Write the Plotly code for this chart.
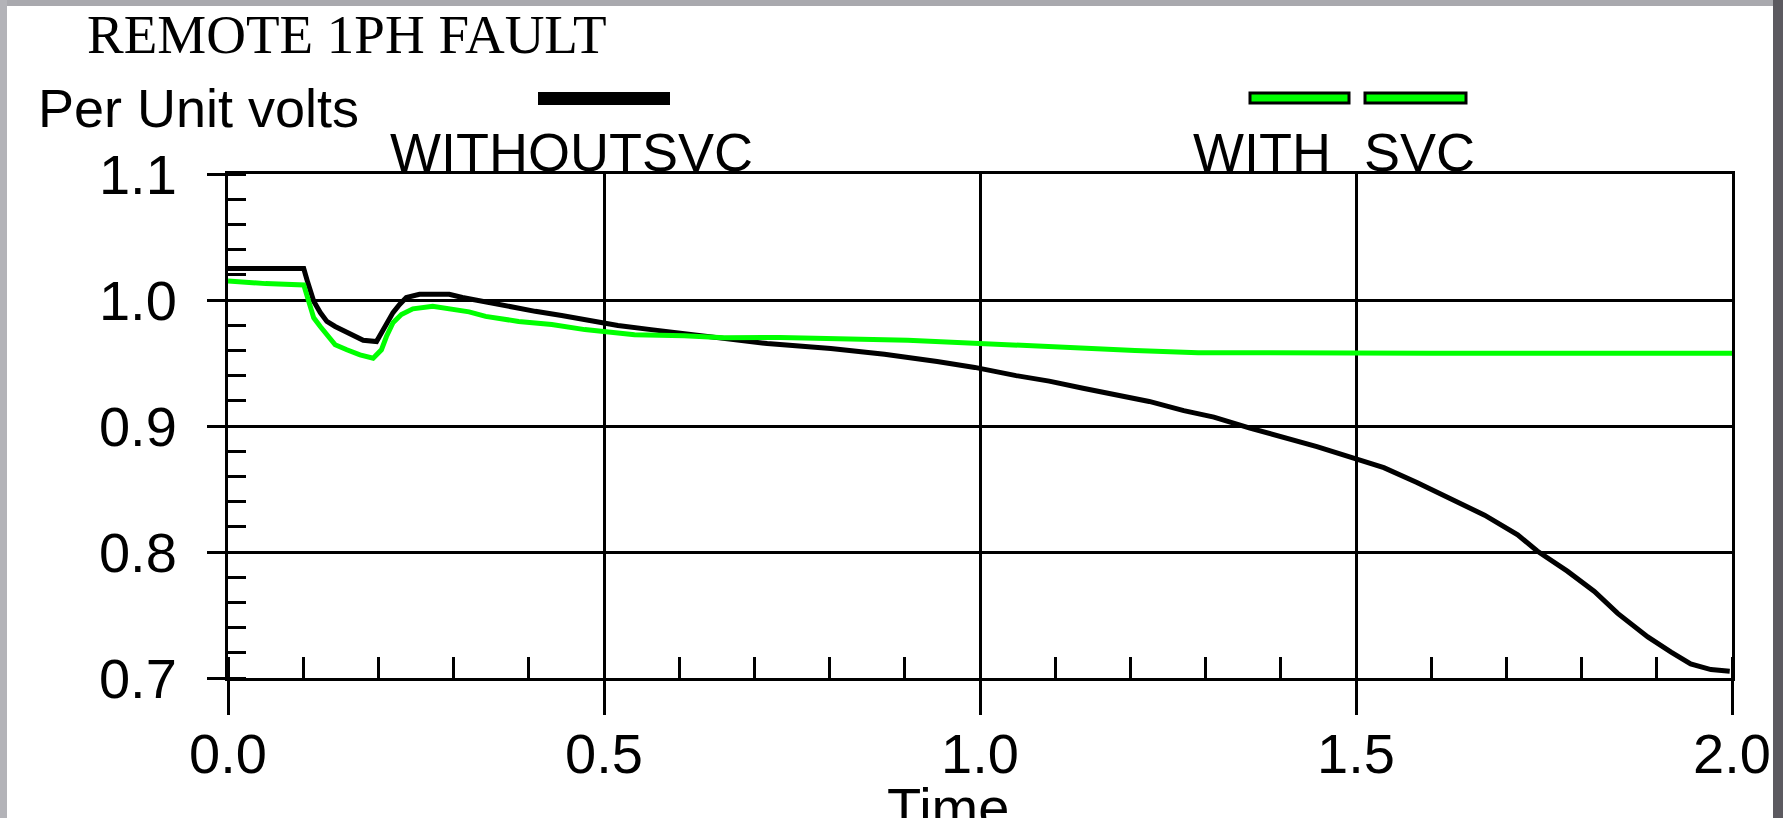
import plotly.graph_objects as go

# ---------------- data ----------------
t_without = [0.0, 0.1007, 0.106, 0.114, 0.1227, 0.1315, 0.1425, 0.1534, 0.1666,
             0.1798, 0.1975, 0.2041, 0.2107, 0.2194, 0.2282, 0.2371, 0.2546,
             0.2942, 0.3117, 0.3426, 0.3777, 0.4086, 0.4437, 0.4789, 0.5185,
             0.5626, 0.717, 0.8016, 0.873, 0.943, 0.993, 1.048, 1.092, 1.137,
             1.181, 1.225, 1.271, 1.311, 1.359, 1.404, 1.448, 1.5, 1.537, 1.581,
             1.625, 1.671, 1.715, 1.741, 1.781, 1.817, 1.848, 1.888, 1.919,
             1.945, 1.972, 1.997]
v_without = [1.025, 1.025, 1.014, 0.999, 0.990, 0.983, 0.979, 0.976, 0.972,
             0.968, 0.967, 0.974, 0.980, 0.990, 0.9965, 1.002, 1.0045,
             1.0045, 1.002, 0.9984, 0.9952, 0.991, 0.9877, 0.984, 0.9797,
             0.9765, 0.9654, 0.9615, 0.9569, 0.9512, 0.9465, 0.940, 0.9356, 0.930,
             0.9245, 0.9195, 0.9122, 0.907, 0.8984, 0.8914, 0.8837, 0.8739, 0.8669, 0.8552,
             0.8422, 0.8292, 0.8137, 0.8008, 0.7848, 0.7687, 0.7513, 0.7326, 0.7206,
             0.7112, 0.7067, 0.7054]

t_with = [0.0, 0.05, 0.1007, 0.106, 0.114, 0.1227, 0.1315, 0.1425, 0.158, 0.1755,
          0.193, 0.204, 0.2107, 0.2194, 0.2305, 0.2458, 0.2722, 0.2942, 0.3206,
          0.3426, 0.3865, 0.4305, 0.4745, 0.5406, 0.6067, 0.6596, 0.734, 0.904,
          1.0, 1.098, 1.206, 1.29, 1.4, 1.6, 1.8, 2.0]
v_with = [1.015, 1.013, 1.012, 1.0005, 0.9858, 0.979, 0.9725, 0.9645, 0.9605, 0.9565,
          0.9538, 0.9605, 0.971, 0.982, 0.9885, 0.993, 0.995, 0.993, 0.9906,
          0.987, 0.983, 0.9805, 0.9765, 0.9725, 0.9717, 0.970, 0.9703, 0.968,
          0.9654, 0.9623, 0.960, 0.9582, 0.9578, 0.9578, 0.9578, 0.9578]

x_tickvals = [0.0, 0.5, 1.0, 1.5, 2.0]
x_ticktext = ["0.0", "0.5", "1.0", "1.5", "2.0"]
y_tickvals = [0.7, 0.8, 0.9, 1.0, 1.1]
y_ticktext = ["0.7", "0.8", "0.9", "1.0", "1.1"]

title_text = "REMOTE 1PH FAULT"
y_label = "Per Unit volts"
x_label = "Time"
label_without = "WITHOUTSVC"
label_with = ["WITH", "SVC"]

# ---------------- layout helpers (pixels -> paper) ----------------
W, H = 1783, 818
ML, MR, MT, MB = 228, 51, 174, 140
PW, PH = W - ML - MR, H - MT - MB


def px(x):
    return (x - ML) / PW


def py(y):
    return (H - MB - y) / PH


SANS = "Liberation Sans, Arial, sans-serif"
SERIF = "Liberation Serif, Times New Roman, serif"

fig = go.Figure()
fig.add_trace(go.Scatter(x=t_without, y=v_without, mode="lines",
                         line=dict(color="#000000", width=5), name=label_without))
fig.add_trace(go.Scatter(x=t_with, y=v_with, mode="lines",
                         line=dict(color="#00ff00", width=5), name=" ".join(label_with)))

axis_common = dict(showline=True, linewidth=3, linecolor="black", mirror=True,
                   showgrid=True, gridcolor="black", gridwidth=3, zeroline=False,
                   tickcolor="black", tickwidth=3, ticks="outside",
                   tickfont=dict(family=SANS, size=56, color="black"))

fig.update_xaxes(range=[0, 2], tickmode="array", tickvals=x_tickvals, ticktext=x_ticktext,
                 ticklen=34, ticklabelstandoff=-9,
                 minor=dict(ticks="inside", ticklen=21, tickwidth=3, tickcolor="black",
                            tickmode="linear", tick0=0, dtick=0.1, showgrid=False),
                 **axis_common)
fig.update_yaxes(range=[0.7, 1.1], tickmode="array", tickvals=y_tickvals, ticktext=y_ticktext,
                 ticklen=18, ticklabelstandoff=19,
                 minor=dict(ticks="inside", ticklen=18, tickwidth=3, tickcolor="black",
                            tickmode="linear", tick0=0.7, dtick=0.02, showgrid=False),
                 **axis_common)

shapes = [
    # window frame
    dict(type="rect", xref="paper", yref="paper", x0=px(0), x1=px(W), y0=py(0), y1=py(6),
         fillcolor="#a9a9ae", line=dict(width=0), layer="above"),
    dict(type="rect", xref="paper", yref="paper", x0=px(0), x1=px(7), y0=py(0), y1=py(H),
         fillcolor="#b3b3b8", line=dict(width=0), layer="above"),
    dict(type="rect", xref="paper", yref="paper", x0=px(1773), x1=px(W), y0=py(0), y1=py(H),
         fillcolor="#5c5a60", line=dict(width=0), layer="above"),
    # legend swatches
    dict(type="rect", xref="paper", yref="paper", x0=px(538), x1=px(670), y0=py(105), y1=py(92),
         fillcolor="#000000", line=dict(width=0)),
    dict(type="rect", xref="paper", yref="paper", x0=px(1250), x1=px(1349), y0=py(103), y1=py(93),
         fillcolor="#00ff00", line=dict(color="black", width=3)),
    dict(type="rect", xref="paper", yref="paper", x0=px(1365), x1=px(1466), y0=py(103), y1=py(93),
         fillcolor="#00ff00", line=dict(color="black", width=3)),
]


def ann(text, x, y, size, family):
    return dict(text=text, xref="paper", yref="paper", x=px(x), y=py(y),
                xanchor="left", yanchor="middle", showarrow=False,
                font=dict(family=family, size=size, color="black"), borderpad=0)


annotations = [
    ann(title_text, 86, 34, 55, SERIF),
    ann(y_label, 37, 107.5, 54, SANS),
    ann(label_without, 389, 152.5, 54, SANS),
    ann(label_with[0], 1192, 152.5, 54, SANS),
    ann(label_with[1], 1363, 152.5, 54, SANS),
    ann(x_label, 886, 807, 56, SANS),
]

fig.update_layout(width=W, height=H, autosize=False,
                  margin=dict(l=ML, r=MR, t=MT, b=MB, pad=0),
                  paper_bgcolor="white", plot_bgcolor="white",
                  showlegend=False, shapes=shapes, annotations=annotations)

fig.write_html("out.html", config={"displayModeBar": False},
               post_script="document.body.style.margin='0';document.body.style.overflow='hidden';")
